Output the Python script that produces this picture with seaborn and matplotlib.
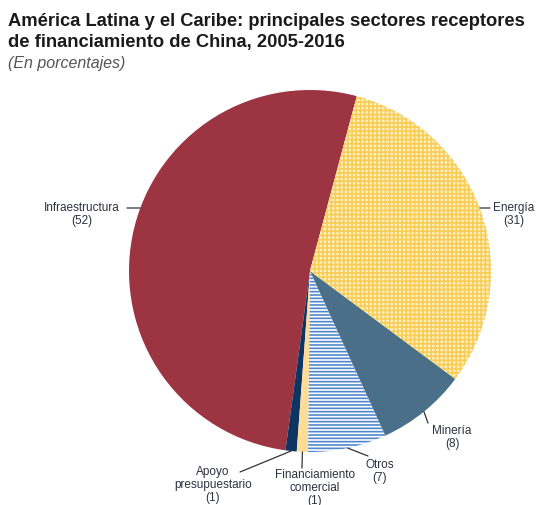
import matplotlib
matplotlib.use('Agg')
import numpy as np
import matplotlib.pyplot as plt
import seaborn as sns

# datos (en porcentajes)
sectores = ['Infraestructura', 'Apoyo\npresupuestario', 'Financiamiento\ncomercial',
            'Otros', 'Minería', 'Energía']
porcentajes = [52, 1, 1, 7, 8, 31]
etiquetas = [f'{s}\n({v})' for s, v in zip(sectores, porcentajes)]

colores = ['#9C3441', '#0E3462', '#FDDD96', '#FFFFFF', '#4A7089', '#FFF0C4']
tramas = [None, None, None, '-----', None, '++++']
color_trama = ['#9C3441', '#0E3462', '#FDDD96', '#4F86CC', '#4A7089', '#F7CD55']

sns.set_style('white')
plt.rcParams['font.family'] = ['Liberation Sans', 'DejaVu Sans']
plt.rcParams['hatch.linewidth'] = 1.2

W, H = 541, 506
fig = plt.figure(figsize=(W / 100, H / 100), dpi=100)

# pie: centre (310, 272) px from top, radius ~181 px
cx, cy, r = 310, 272, 181
ax = fig.add_axes([(cx - r) / W, (H - cy - r) / H, 2 * r / W, 2 * r / H])
wedges, _ = ax.pie(porcentajes, colors=colores, startangle=75, counterclock=True,
                   wedgeprops=dict(linewidth=0))
for w, h, ec in zip(wedges, tramas, color_trama):
    w.set_edgecolor(ec)
    if h:
        w.set_hatch(h)
ax.set_xlim(-1, 1)
ax.set_ylim(-1, 1)
ax.axis('off')

# title
fig.text(8 / W, 1 - 13 / H, 'América Latina y el Caribe: principales sectores receptores\n'
         'de financiamiento de China, 2005-2016',
         ha='left', va='top', fontsize=13.2, fontweight='bold', color='#1a1a1a',
         linespacing=1.3)
fig.text(8 / W, 1 - 56 / H, '(En porcentajes)', ha='left', va='top', fontsize=11.5,
         style='italic', color='#555555')

# label text position (centre x, first-line y) and leader end, px from top
pos_texto = [(82, 209), (213, 473), (315, 476), (380, 466), (452, 432), (514, 209)]
fin_linea = [(127, 209), (240, 473), (302, 469), (368, 457), (428, 424), (490, 209)]

for w, lab, (tx, ty), (lx, ly) in zip(wedges, etiquetas, pos_texto, fin_linea):
    if w.theta2 - w.theta1 > 100 or w.theta1 < 0 or w.theta2 > 360:
        # horizontal leader: edge point at the label height
        yd = (cy - ly) / r
        xd = np.sign(lx - cx) * np.sqrt(1 - yd ** 2)
    else:
        ang = np.deg2rad((w.theta1 + w.theta2) / 2)
        xd, yd = np.cos(ang), np.sin(ang)
    ax.annotate('', xy=(xd, yd), xycoords='data', xytext=(lx, H - ly),
                textcoords='figure pixels',
                arrowprops=dict(arrowstyle='-', color='#333333', lw=0.9,
                                shrinkA=0, shrinkB=0), annotation_clip=False)
    fig.text(tx / W, 1 - (ty - 7) / H, lab, ha='center', va='top', fontsize=8.5,
             color='#2e3040', linespacing=1.1)

fig.savefig('out.png', dpi=100)
